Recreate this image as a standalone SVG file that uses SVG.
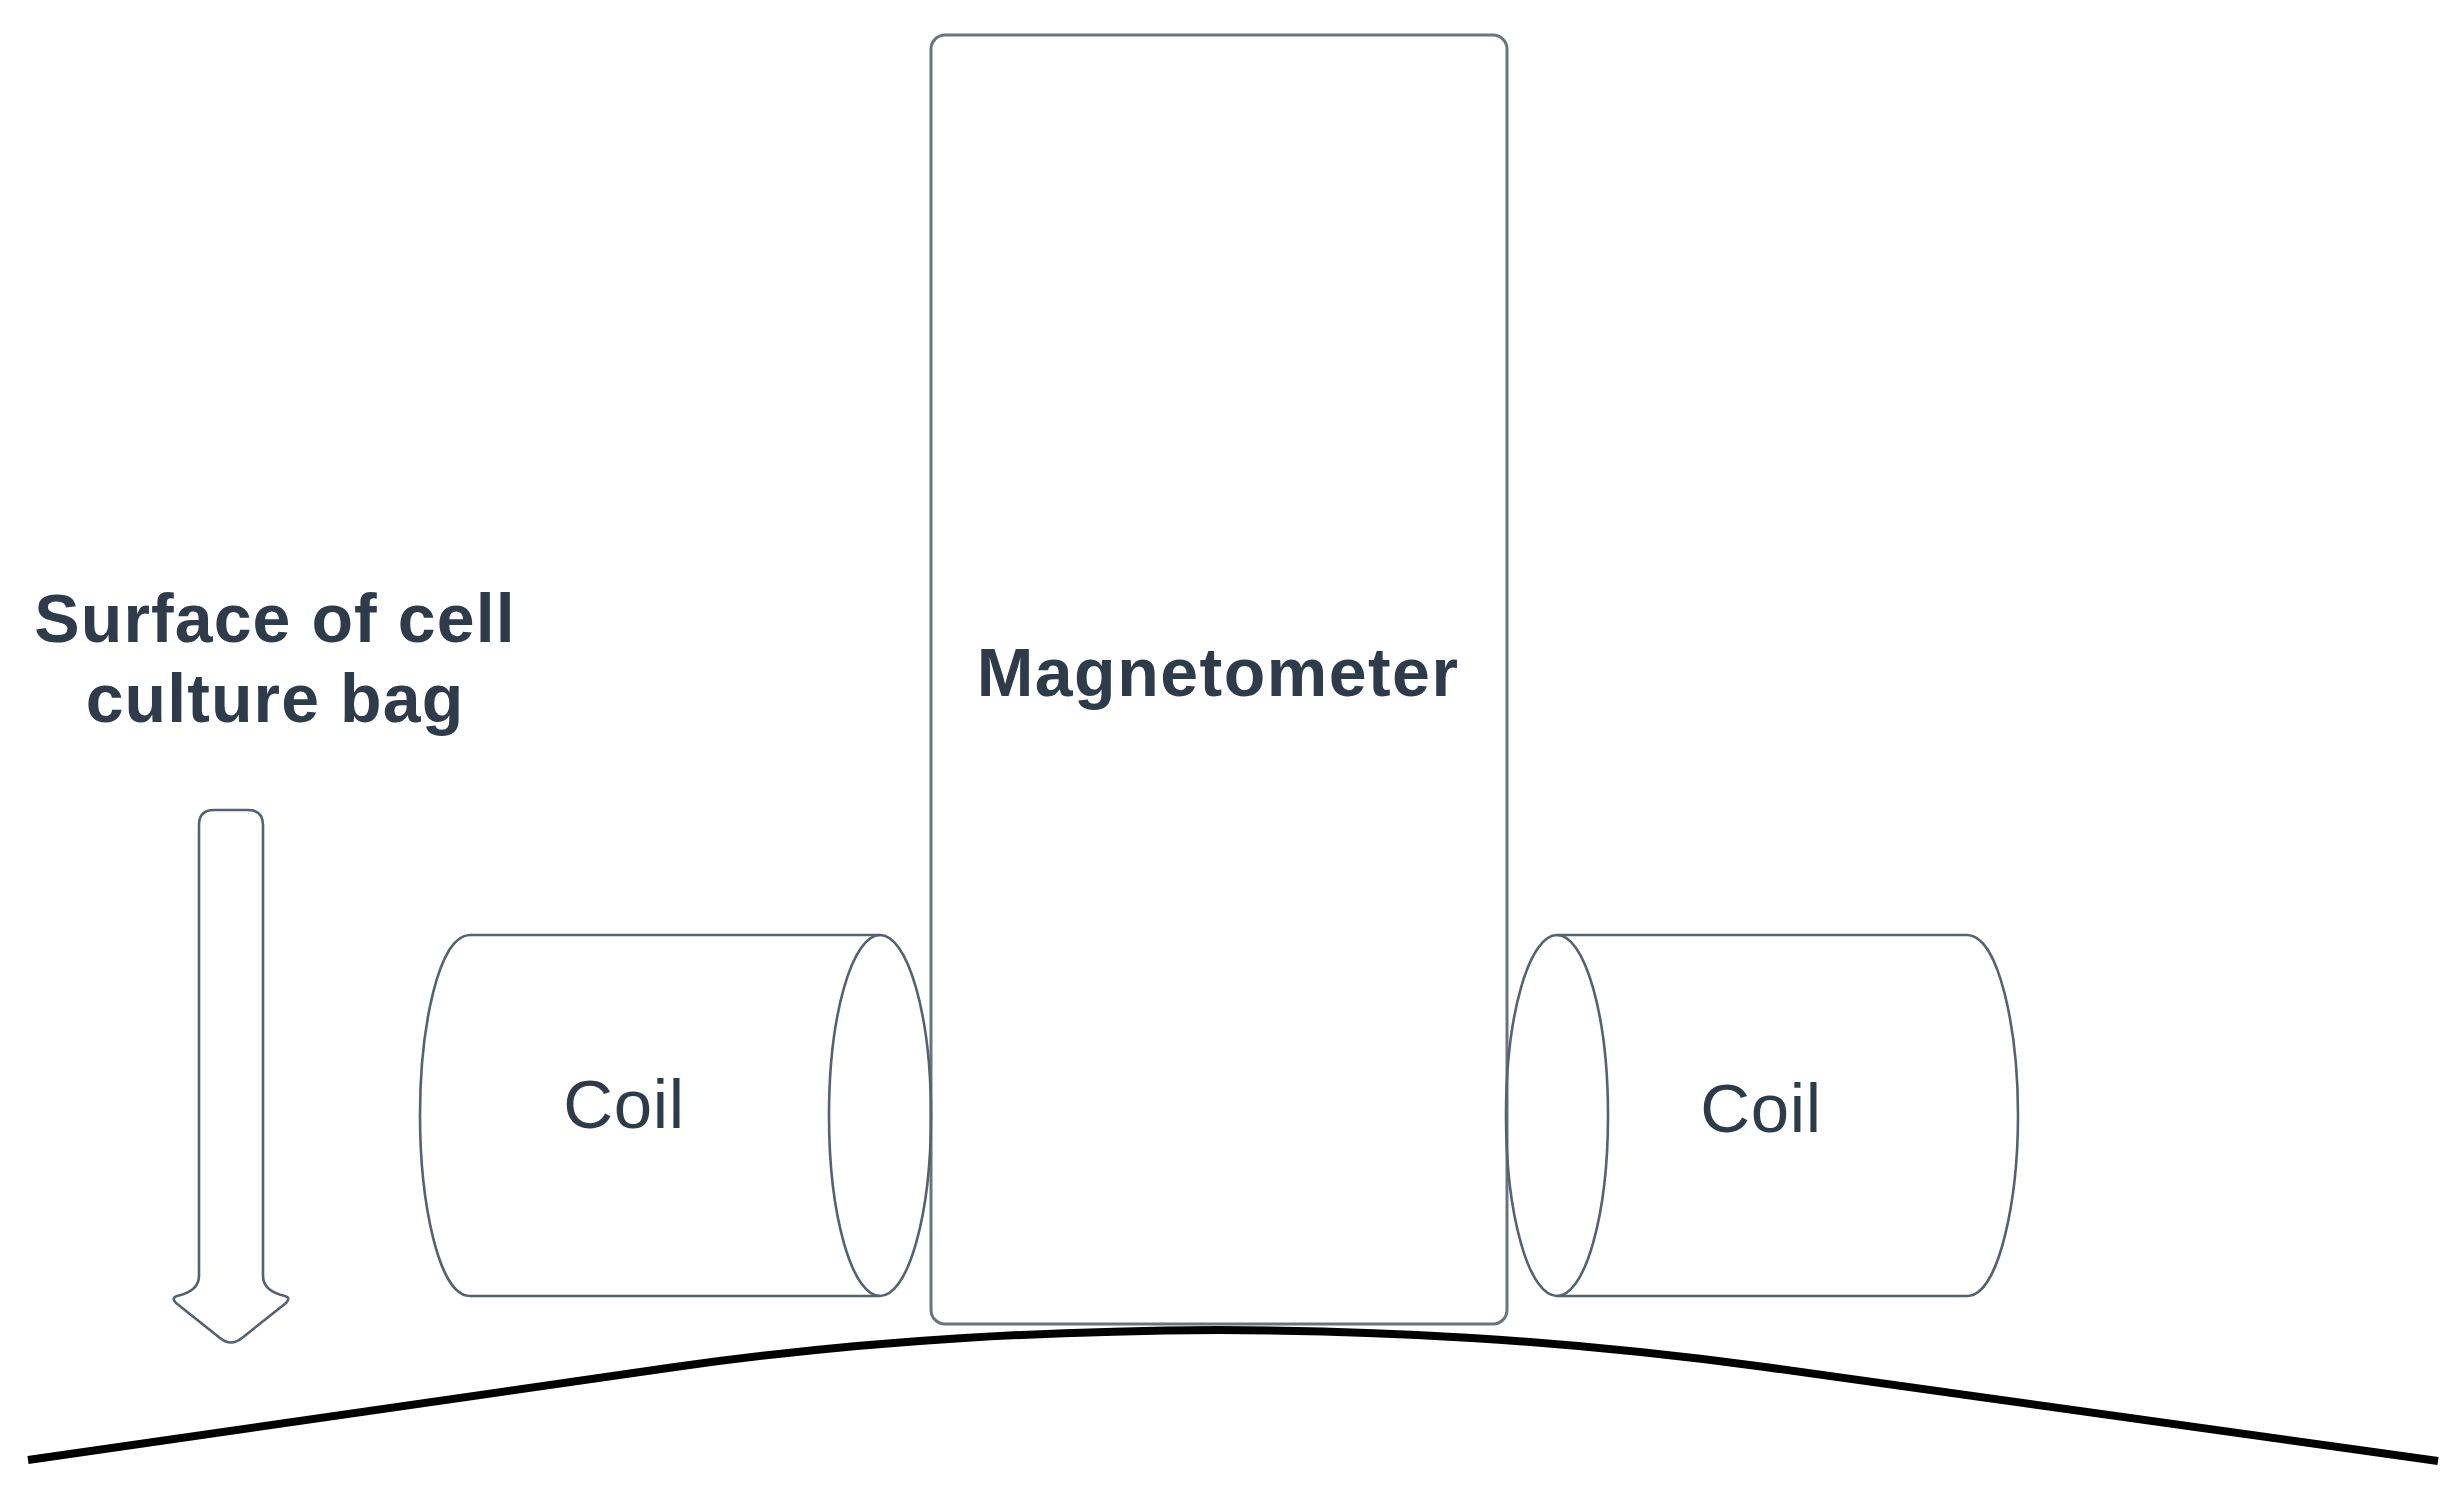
<svg xmlns="http://www.w3.org/2000/svg" width="2464" height="1505" viewBox="0 0 2464 1505">
<style>
.s{fill:none;stroke:#6a747f;stroke-width:3}
.c{fill:none;stroke:#566270;stroke-width:2.6}
text{font-family:"Liberation Sans",Arial,sans-serif;fill:#2e3b4a;text-anchor:middle}
.b{font-weight:700}
</style>
<rect width="2464" height="1505" fill="#fff"/>
<g id="magnetometer">
<rect class="s" x="931" y="35" width="576" height="1289" rx="14"/>
<text class="b" x="1218" y="696" font-size="68" letter-spacing="1.500">Magnetometer</text>
</g>
<g id="coil-left">
<path class="c" d="M880 935H470C438 935 420 1030 420 1115C420 1200 438 1296 470 1296H880"/>
<ellipse class="c" cx="880" cy="1115.500" rx="51" ry="180.500"/>
<text x="624" y="1128" font-size="69" letter-spacing="0.700">Coil</text>
</g>
<g id="coil-right">
<path class="c" d="M1557 935H1967C1999 935 2018 1030 2018 1115C2018 1200 1999 1296 1967 1296H1557"/>
<ellipse class="c" cx="1557" cy="1115.500" rx="51" ry="180.500"/>
<text x="1761" y="1132" font-size="69" letter-spacing="0.700">Coil</text>
</g>
<g id="surface-label">
<text class="b" x="275" y="642" font-size="68" letter-spacing="1.100">Surface of cell</text>
<text class="b" x="275" y="722" font-size="68" letter-spacing="1.100">culture bag</text>
</g>
<g id="connectors">
<path class="c" d="M199 1276V825Q199 810 214 810H248Q263 810 263 825V1276Q263 1291 285 1296Q291 1298 286 1303L242 1338Q231 1347 220 1338L176 1303Q171 1298 177 1296Q199 1291 199 1276Z"/>
<path d="M28 1460L675 1367C880 1338 1060 1331 1218 1330C1380 1331 1550 1338 1765 1367L2438 1461" fill="none" stroke="#000" stroke-width="8"/>
</g>
</svg>
